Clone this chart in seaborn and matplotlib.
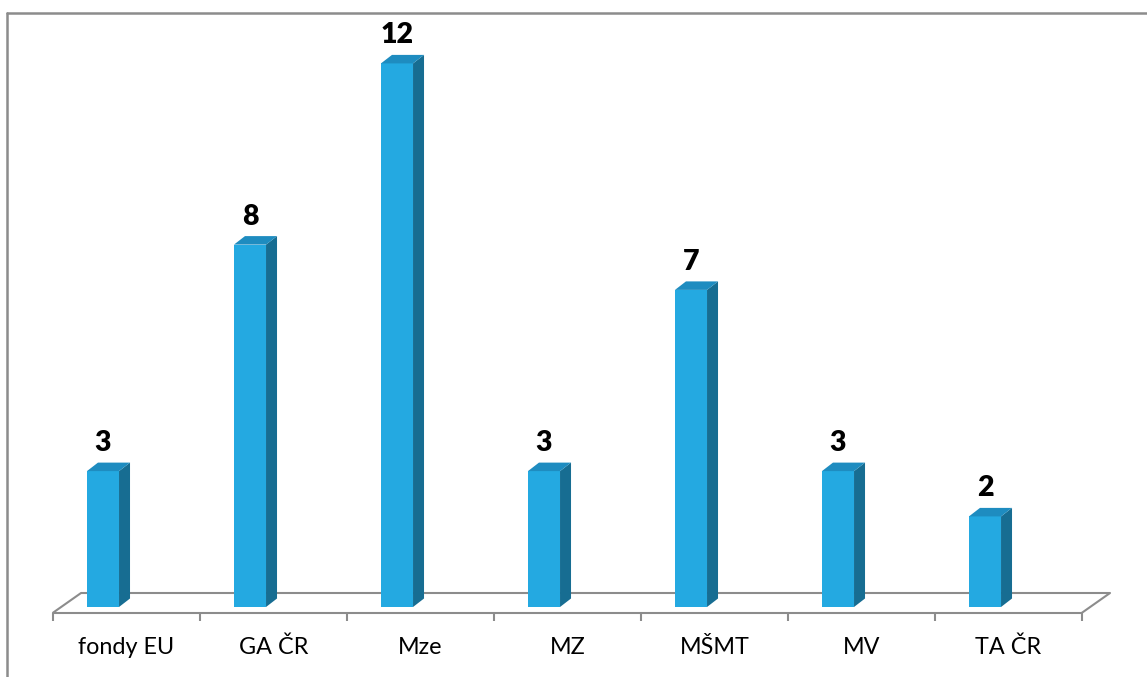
import matplotlib
matplotlib.use("Agg")
import matplotlib.pyplot as plt
from matplotlib.patches import Polygon
from matplotlib.lines import Line2D
import seaborn as sns
import pandas as pd

# ---- data ----
categories = ["fondy EU", "GA ČR", "Mze", "MZ", "MŠMT", "MV", "TA ČR"]
values = [3, 8, 12, 3, 7, 3, 2]

# ---- style ----
sns.set_theme(style="white")
plt.rcParams["font.family"] = ["Lato", "DejaVu Sans"]

FRONT = "#24A9E1"
SIDE = "#176D92"
TOP = "#1E8CC0"
GRID = "#8C8C8C"

df = pd.DataFrame({"cat": categories, "val": values})

fig = plt.figure(figsize=(11.47, 6.77), dpi=100)
ax = fig.add_axes([0, 0, 1, 1])

sns.barplot(data=df, x="cat", y="val", order=categories, color=FRONT,
            width=0.218, saturation=1, ax=ax, zorder=3, edgecolor="none")

# pixel mapping: px = 103 + 147*x ; py = 607 - 45.3*v
ax.set_xlim(-103 / 147, (1147 - 103) / 147)
ax.set_ylim(-(677 - 607) / 45.3, 607 / 45.3)
ax.axis("off")

# 3D depth offsets (data units)
dx, dy = 11 / 147, 8.5 / 45.3
for p in ax.patches[:len(values)]:
    x0 = p.get_x()
    w = p.get_width()
    h = p.get_height()
    x1 = x0 + w
    side = Polygon([(x1, 0), (x1 + dx, dy), (x1 + dx, h + dy), (x1, h)],
                   closed=True, facecolor=SIDE, edgecolor="none", zorder=3)
    top = Polygon([(x0, h), (x0 + dx, h + dy), (x1 + dx, h + dy), (x1, h)],
                  closed=True, facecolor=TOP, edgecolor="none", zorder=3)
    ax.add_patch(side)
    ax.add_patch(top)
    ax.text(x0 + w / 2, h + 0.62, f"{int(h)}", ha="center", va="center",
            fontsize=20.5, fontweight="heavy", color="black", zorder=5)

# floor (3D base)
n = len(categories)
shift = 0.16
fx0, fx1 = -0.5 + shift, n - 0.5 + shift
fy_front, fy_back = -0.126, 0.309
fdx = 28 / 147
ax.plot([fx0, fx1], [fy_front, fy_front], color=GRID, lw=1.5, zorder=2,
        solid_capstyle="butt")
ax.plot([fx0 + fdx, fx1 + fdx], [fy_back, fy_back], color=GRID, lw=1.5,
        zorder=1, solid_capstyle="butt")
ax.plot([fx0, fx0 + fdx], [fy_front, fy_back], color=GRID, lw=1.5, zorder=1)
ax.plot([fx1, fx1 + fdx], [fy_front, fy_back], color=GRID, lw=1.5, zorder=1)
for k in range(n + 1):
    ax.plot([fx0 + k, fx0 + k], [fy_front, fy_front - 8 / 45.3], color=GRID,
            lw=1.5, zorder=1, solid_capstyle="butt")

# category labels
for i, c in enumerate(categories):
    ax.text(i + shift, -(647 - 607) / 45.3, c, ha="center", va="center",
            fontsize=16.8, color="black")

# outer border (left and top visible)
bx, by = 7.5 / 1147, 1 - 12.5 / 677
fig.add_artist(Line2D([bx, bx], [0, by], transform=fig.transFigure,
                      color=GRID, lw=1.8))
fig.add_artist(Line2D([bx, 1], [by, by], transform=fig.transFigure,
                      color=GRID, lw=1.8))

fig.savefig("out.png", dpi=100, facecolor="white")
